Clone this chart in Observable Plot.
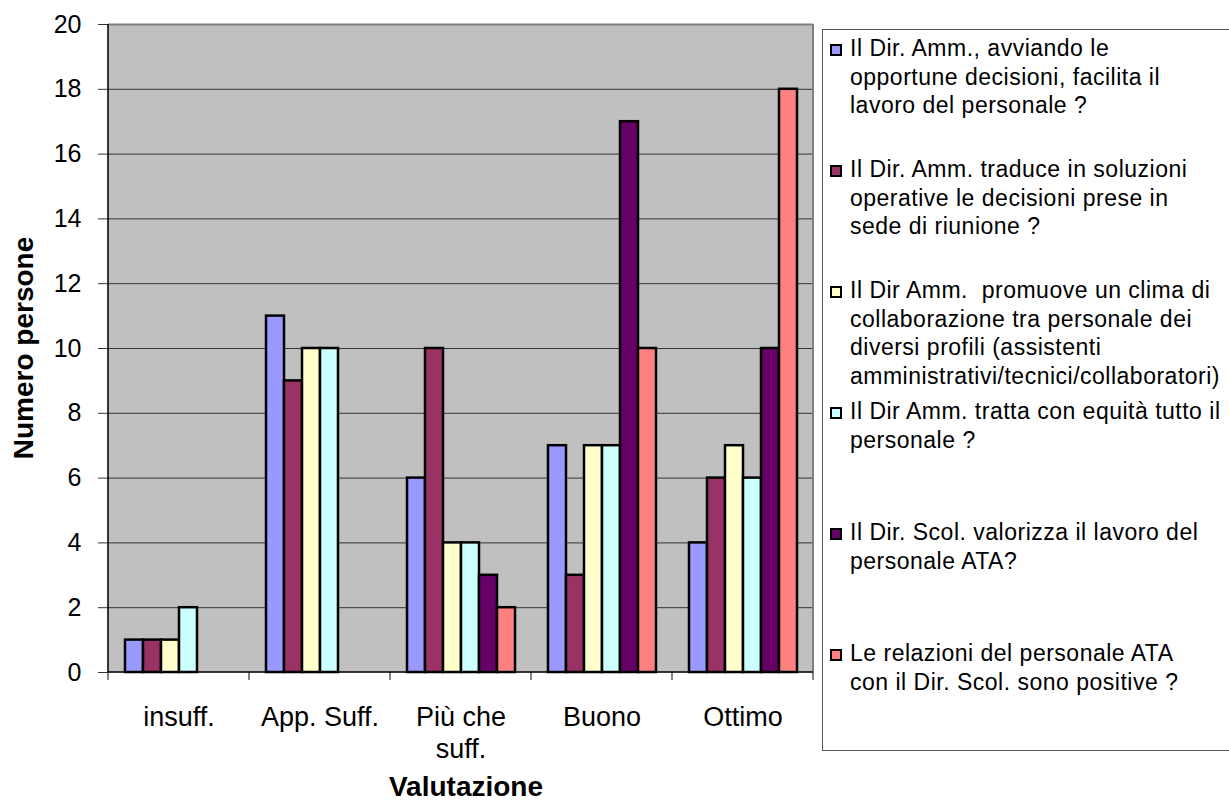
<!DOCTYPE html>
<html>
<head>
<meta charset="utf-8">
<script src="https://cdn.jsdelivr.net/npm/d3@7"></script>
<script src="https://cdn.jsdelivr.net/npm/@observablehq/plot@0.6"></script>
<style>
  html, body { margin: 0; padding: 0; background: #fff; }
  #wrap { position: relative; width: 1229px; height: 803px; overflow: hidden; font-family: "Liberation Sans", Arial, sans-serif; color: #000; }
  #chart { position: absolute; left: 0; top: 0; }
  #legend { position: absolute; left: 822px; top: 29px; width: 430px; height: 722px; border: 1.5px solid #555; box-sizing: border-box; background: #fff; }
  .item { position: absolute; left: 0; width: 100%; }
  .sw { position: absolute; left: 7px; top: 10px; width: 8px; height: 8px; border: 2px solid #000; }
  .lab { position: absolute; left: 27px; top: 0; font-size: 23px; line-height: 28.7px; letter-spacing: 0.5px; white-space: pre; }
  .title { position: absolute; font-weight: bold; font-size: 28px; line-height: 28px; white-space: nowrap; }
</style>
</head>
<body>
<div id="wrap">
  <div id="chart"></div>
  <div id="legend"></div>
  <div class="title" id="xtitle" style="left:266px; width:400px; text-align:center; top:773px;">Valutazione</div>
  <div class="title" id="ytitle" style="left:24px; top:348px; transform: translate(-50%,-50%) rotate(-90deg);">Numero persone</div>
</div>
<script>
// Categories (x axis) — "\n" marks the line break of the tick label
const categories = ["insuff.", "App. Suff.", "Più che\nsuff.", "Buono", "Ottimo"];

// Series names — "\n" marks the line breaks in the legend
const series = [
  "Il Dir. Amm., avviando le\nopportune decisioni, facilita il\nlavoro del personale ?",
  "Il Dir. Amm. traduce in soluzioni\noperative le decisioni prese in\nsede di riunione ?",
  "Il Dir Amm.  promuove un clima di\ncollaborazione tra personale dei\ndiversi profili (assistenti\namministrativi/tecnici/collaboratori)",
  "Il Dir Amm. tratta con equità tutto il\npersonale ?",
  "Il Dir. Scol. valorizza il lavoro del\npersonale ATA?",
  "Le relazioni del personale ATA\ncon il Dir. Scol. sono positive ?"
];

const colors = ["#9999FF", "#993366", "#FFFFCC", "#CCFFFF", "#660066", "#FF8080"];

// Values per series, in category order
const s1 = [1, 11, 6, 7, 4];
const s2 = [1, 9, 10, 3, 6];
const s3 = [1, 10, 4, 7, 7];
const s4 = [2, 10, 4, 7, 6];
const s5 = [0, 0, 3, 17, 10];
const s6 = [0, 0, 2, 10, 18];
const seriesValues = [s1, s2, s3, s4, s5, s6];

const yTicks = [0, 2, 4, 6, 8, 10, 12, 14, 16, 18, 20];

const data = [];
categories.forEach((c, i) => {
  series.forEach((s, j) => {
    data.push({category: c, series: s, value: seriesValues[j][i]});
  });
});

const font = "'Liberation Sans', Arial, sans-serif";

const chart = Plot.plot({
  width: 820,
  height: 803,
  marginLeft: 107,
  marginRight: 7,
  marginTop: 24,
  marginBottom: 131,
  style: {fontFamily: font, background: "transparent", color: "#000", overflow: "visible"},
  fx: {domain: categories, padding: 0, label: null},
  x: {domain: series, paddingInner: 0, paddingOuter: 0.72, axis: null},
  y: {domain: [0, 20], label: null},
  color: {domain: series, range: colors},
  marks: [
    Plot.frame({fill: "#C0C0C0", stroke: "none", insetLeft: -1, insetRight: -1}),
    Plot.gridY(yTicks.filter(t => t > 0 && t < 20), {stroke: "#333", strokeOpacity: 1, strokeWidth: 1}),
    Plot.ruleY([20], {stroke: "#808080", strokeWidth: 2}),
    Plot.barY(data, {
      fx: "category", x: "series", y: "value", fill: "series",
      stroke: "#000", strokeWidth: 2.5, filter: d => d.value > 0
    }),
    Plot.axisY({ticks: yTicks, tickSize: 10, tickPadding: 17, fontSize: 25, label: null, stroke: "#333"}),
    Plot.axisFx({anchor: "bottom", tickSize: 0, tickPadding: 31, fontSize: 27, lineHeight: 1.19, label: null})
  ]
});

document.getElementById("chart").appendChild(chart);

// Axis lines and category boundary ticks, positioned with the plot's scales
const fxs = chart.scale("fx");
const ys = chart.scale("y");
const svg = d3.select(chart);
const y0 = ys.apply(0);
const yTop = ys.apply(20);
const edges = categories.map(c => fxs.apply(c));
const xLeft = edges[0];
const xRight = edges[edges.length - 1] + fxs.bandwidth;
edges.push(xRight);

const g = svg.append("g");
// white cover beyond the right edge, then the grey right edge
g.append("rect").attr("x", xRight).attr("y", yTop - 2).attr("width", 20).attr("height", y0 - yTop + 4).attr("fill", "#fff");
g.append("line").attr("x1", xRight).attr("x2", xRight).attr("y1", yTop).attr("y2", y0)
  .attr("stroke", "#808080").attr("stroke-width", 2);
// boundary ticks
edges.forEach(x => {
  g.append("line").attr("x1", x).attr("x2", x).attr("y1", y0).attr("y2", y0 + 8)
    .attr("stroke", "#333").attr("stroke-width", 1.2);
});
// bottom axis line
g.append("line").attr("x1", xLeft).attr("x2", xRight).attr("y1", y0).attr("y2", y0)
  .attr("stroke", "#000").attr("stroke-width", 1.5);
// left axis line
g.append("line").attr("x1", xLeft).attr("x2", xLeft).attr("y1", yTop).attr("y2", y0)
  .attr("stroke", "#000").attr("stroke-width", 1.5);

// Legend
const legend = d3.select("#legend");
series.forEach((s, j) => {
  const item = legend.append("div").attr("class", "item").style("top", (4 + 121 * j) + "px");
  item.append("div").attr("class", "sw").style("background", colors[j]);
  item.append("div").attr("class", "lab").text(s);
});
</script>
</body>
</html>
